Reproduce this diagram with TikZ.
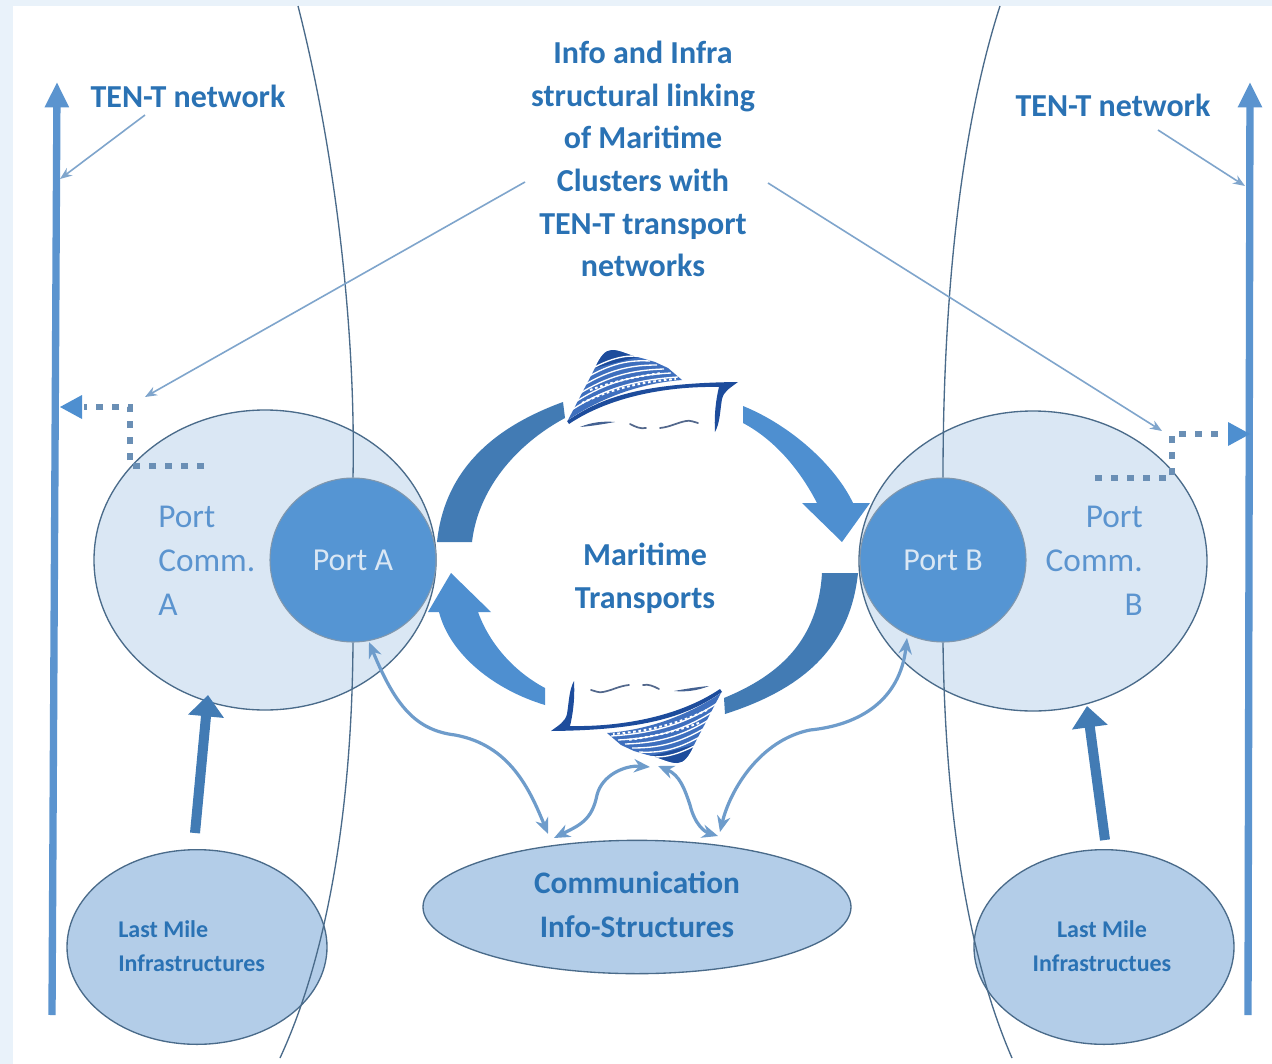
\documentclass[tikz,border=0pt]{standalone}
\usepackage{fontspec}
\setmainfont{Carlito}
\usetikzlibrary{arrows.meta,shapes.geometric}
\definecolor{bgblue}{HTML}{E9F2FA}
\definecolor{txtblue}{HTML}{2A72B4}
\definecolor{edge}{HTML}{4A6B8A}
\definecolor{pale}{HTML}{DAE7F4}
\definecolor{portblue}{HTML}{5595D3}
\definecolor{midblue}{HTML}{B3CDE8}
\definecolor{arcdark}{HTML}{427BB4}
\definecolor{arclight}{HTML}{4E8FD0}
\definecolor{linkblue}{HTML}{6E9CCB}
\definecolor{thinblue}{HTML}{7FA5CC}
\definecolor{axisblue}{HTML}{5B94CF}
\definecolor{dotblue}{HTML}{6A8FB5}
\definecolor{navy}{HTML}{1D4C9C}
\definecolor{shipmid}{HTML}{3E6FBE}
\tikzset{
  bubble/.style={ellipse,draw=edge,line width=1pt,fill=pale,inner sep=0pt},
  portc/.style={ellipse,draw=edge!70!white,line width=.8pt,fill=portblue,minimum width=124.5pt,minimum height=123pt,inner sep=0pt},
  lastm/.style={ellipse,draw=edge,line width=1pt,fill=midblue,minimum width=195pt,minimum height=146pt,inner sep=0pt},
  lbl/.style={font=\fontsize{24}{32}\selectfont\bfseries,text=txtblue,align=center,inner sep=0pt},
  smalllbl/.style={font=\fontsize{18}{25}\selectfont\bfseries,text=txtblue,inner sep=0pt},
  commlbl/.style={font=\fontsize{25}{33}\selectfont,text=axisblue,inner sep=0pt},
  portlbl/.style={font=\fontsize{24}{30}\selectfont,text=pale,inner sep=0pt},
  axisline/.style={draw=axisblue,line width=5.5pt,-{Triangle[length=19pt,width=17pt]}},
  pointer/.style={draw=thinblue,line width=1.2pt,-{Stealth[length=9pt,width=7pt]}},
  feeder/.style={draw=arcdark,line width=7.5pt,-{Triangle[length=16pt,width=26pt]}},
  linkarrow/.style={draw=linkblue,line width=2.4pt,{Stealth[length=12pt,width=10pt]}-{Stealth[length=12pt,width=10pt]}},
  dotlink/.style={draw=dotblue,line width=5pt,dash pattern=on 5.2pt off 6.8pt},
  dothead/.style={fill=arclight,draw=none},
  contour/.style={draw=edge,line width=1pt},
}
\newcommand{\shipdraw}{%
  \fill[shipmid] (-84,29) -- (-57,-23) .. controls (-52,-34) and (-47,-41) .. (-40,-41)
    .. controls (-32,-41) and (-24,-36) .. (-14,-34)
    -- (3,-29) -- (16,-23) -- (30,-11)
    .. controls (-10,-8) and (-50,6) .. (-84,29) -- cycle;
  \fill[navy] (-57,-23) .. controls (-52,-34) and (-47,-41) .. (-40,-41)
    .. controls (-32,-41) and (-24,-36) .. (-14,-34)
    .. controls (-30,-30) and (-45,-26) .. (-57,-23) -- cycle;
  \foreach \yy in {0,1,2,3,4,5}{
    \draw[white,line width=1pt] (-82+\yy*4.4,20-\yy*8.5) .. controls (-50+\yy*3,-1-\yy*7) and (-20,-11-\yy*5) .. (26-\yy*7,-14-\yy*4);
  }
  \draw[white,line width=1.5pt,dash pattern=on 2pt off 2pt] (-70,12) .. controls (-45,0) and (-15,-9) .. (24,-12);
  \draw[white,line width=1.5pt,dash pattern=on 2pt off 2pt] (-62,-1) .. controls (-40,-9) and (-15,-15) .. (10,-18);
  \fill[navy] (-85,30) .. controls (-50,6) and (-10,-8) .. (86,-9)
    .. controls (78,-3) and (72,0) .. (70,8)
    .. controls (68,20) and (68,32) .. (63,41)
    .. controls (62,24) and (64,8) .. (67,-4)
    .. controls (20,-5) and (-40,4) .. (-83,33) -- cycle;
  \fill[navy!60!gray] (-72,36) .. controls (-60,31) and (-48,30) .. (-37,31) .. controls (-48,33) and (-60,35) .. (-72,36) -- cycle;
  \draw[navy!45!gray,line width=1.3pt,line cap=round] (-22,33) .. controls (-16,36) and (-12,38) .. (-6,37);
  \draw[navy!45!gray,line width=1.3pt,line cap=round] (8,37) .. controls (18,36) and (24,32) .. (34,30) .. controls (38,29) and (42,31) .. (46,32);
}
\begin{document}
\begin{tikzpicture}[x=0.75pt,y=-0.75pt]
\useasboundingbox (0,0) rectangle (1272,1064);
\fill[bgblue] (0,0) rectangle (1272,1064);
\fill[white] (13,6) rectangle (1272,1064);

% free ends
\coordinate (ctlA) at (298,6);
\coordinate (cblA) at (280,1058);
\coordinate (ctrB) at (1000,6);
\coordinate (cbrB) at (1012,1058);
\coordinate (axLb) at (52,1015);
\coordinate (axLt) at (57,82);
\coordinate (axRb) at (1248,1015);
\coordinate (axRt) at (1250,82);
\coordinate (tenLa) at (145,115);
\coordinate (tenLhit) at (60,179);
\coordinate (tenRa) at (1158,130);
\coordinate (tenRhit) at (1245,186);
\coordinate (infoLa) at (525,182);
\coordinate (infoLhit) at (145,397);
\coordinate (infoRa) at (768,183);
\coordinate (infoRhit) at (1162,431);
\coordinate (dlA) at (204,466);
\coordinate (dlB) at (130,466);
\coordinate (dlC) at (130,407);
\coordinate (dlD) at (84,407);
\coordinate (drA) at (1095,478);
\coordinate (drB) at (1172,478);
\coordinate (drC) at (1172,434);
\coordinate (drD) at (1226,434);
\coordinate (feedAa) at (195,833);
\coordinate (feedAb) at (208,695);
\coordinate (feedBa) at (1105,840);
\coordinate (feedBb) at (1087,706);
\coordinate (shipLow) at (650,767);
\coordinate (shipLow2) at (658,766);

% bubbles
\node[bubble,minimum width=256.5pt,minimum height=225pt] (commA) at (265,560) {};
\node[bubble,minimum width=261pt,minimum height=225pt] (commB) at (1033,561) {};
\node[portc] (portA) at (353,560) {};
\node[portc] (portB) at (943,560) {};
\node[lastm] (lastA) at (197,947) {};
\node[lastm] (lastB) at (1104,947) {};
\node[ellipse,draw=edge,line width=1pt,fill=midblue,minimum width=321pt,minimum height=100pt,inner sep=0pt] (infos) at (637,907) {};

% contours
\draw[contour] (ctlA) .. controls (335,150) and (356,330) .. (portA.north);
\draw[contour] (portA.south) .. controls (352,800) and (330,950) .. (cblA);
\draw[contour] (ctrB) .. controls (960,130) and (943,300) .. (portB.north);
\draw[contour] (portB.south) .. controls (945,800) and (965,950) .. (cbrB);

% main axes
\draw[axisline] (axLb) -- (axLt);
\draw[axisline] (axRb) -- (axRt);

% dotted exchanges
\draw[dotlink] (dlA) -- (dlB) -- (dlC) -- (dlD);
\fill[dothead] (82,395) -- (60,407) -- (82,419) -- cycle;
\draw[dotlink] (drA) -- (drB) -- (drC) -- (drD);
\fill[dothead] (1228,422) -- (1250,434) -- (1228,446) -- cycle;

% big circulation arrows
\fill[arcdark] (563,402) .. controls (500,425) and (445,465) .. (437,542) -- (472,542)
   .. controls (478,490) and (515,445) .. (565,418) -- cycle;
\fill[arclight] (743,406) .. controls (790,425) and (835,465) .. (853,503) -- (870,503) -- (842,542) -- (802,503) -- (817,503)
   .. controls (800,470) and (775,440) .. (743,423) -- cycle;
\fill[arcdark] (858,573) .. controls (850,650) and (800,690) .. (725,714) -- (724,698)
   .. controls (780,675) and (818,640) .. (822,573) -- cycle;
\fill[arclight] (545,705) .. controls (495,690) and (450,655) .. (439,612) -- (428,612) -- (451,573) -- (491,612) -- (478,612)
   .. controls (490,645) and (515,672) .. (545,688) -- cycle;

% ships
\begin{scope}[shift={(652,391)}]\shipdraw\end{scope}
\begin{scope}[shift={(637,722)},rotate=180]\shipdraw\end{scope}

% thin pointers
\draw[pointer] (tenLa) -- (tenLhit);
\draw[pointer] (tenRa) -- (tenRhit);
\draw[pointer] (infoLa) -- (infoLhit);
\draw[pointer] (infoRa) -- (infoRhit);

% feeders
\draw[feeder] (feedAa) -- (feedAb);
\draw[feeder] (feedBa) -- (feedBb);

% info links
\draw[linkarrow] (369,642) .. controls (395,705) and (415,730) .. (455,735) .. controls (510,745) and (530,790) .. (548,834);
\draw[linkarrow] (554,838) .. controls (580,825) and (592,820) .. (597,795) .. controls (602,775) and (625,765) .. (shipLow);
\draw[linkarrow] (shipLow2) .. controls (680,775) and (685,790) .. (690,805) .. controls (695,825) and (705,832) .. (718,836);
\draw[linkarrow] (907,638) .. controls (900,700) and (860,725) .. (810,730) .. controls (760,740) and (730,790) .. (720,832);

% texts
\node[lbl] (info) at (643,159) {Info and Infra\\structural  linking\\of Maritime\\Clusters with\\TEN-T transport\\networks};
\node[lbl] (tenL) at (188,96) {TEN-T network};
\node[lbl] (tenR) at (1113,105) {TEN-T network};
\node[lbl] (mar) at (645,578) {Maritime\\Transports};
\node[lbl,font=\fontsize{23.5}{33}\selectfont\bfseries] (cis) at (637,905) {Communication\\Info-Structures};
\node[smalllbl,align=left,anchor=west] (lmA) at (118,946) {Last Mile\\Infrastructures};
\node[smalllbl,align=center] (lmB) at (1102,946) {Last Mile\\Infrastructues};
\node[portlbl] (pa) at (353,560) {Port A};
\node[portlbl] (pb) at (943,560) {Port B};
\node[commlbl,align=left,anchor=north west] (cA) at (158,506) {Port\\Comm.\\A};
\node[commlbl,align=right,anchor=north east] (cB) at (1143,506) {Port\\Comm.\\B};
\end{tikzpicture}
\end{document}
